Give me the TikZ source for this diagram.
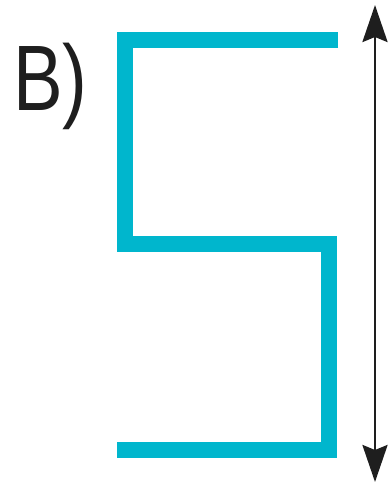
\documentclass[tikz,border=0pt]{standalone}
\usepackage{fontspec}
\setmainfont{Liberation Sans}
\usetikzlibrary{arrows.meta}
\definecolor{zcyan}{RGB}{0,182,205}
\definecolor{zdark}{RGB}{30,30,30}
\tikzset{
  zpath/.style={draw=zcyan, line width=16pt, line join=miter, line cap=butt},
  zarrow/.style={draw=zdark, line width=2.8pt, {Stealth[length=37pt,width=25pt,inset=5pt]}-{Stealth[length=37pt,width=25pt,inset=5pt]}},
  zlabel/.style={inner sep=0pt, anchor=base west, font=\fontsize{93}{93}\selectfont, text=zdark}
}
\begin{document}
\begin{tikzpicture}[x=1pt,y=-1pt]
\useasboundingbox (0,0) rectangle (389,487);
\node[zlabel] (lab) at (13,110) {\scalebox{0.8}[1]{B)}};
\draw[zpath] (338,40) -- (125,40) -- (125,244) -- (329,244) -- (329,450) -- (117,450);
\coordinate (atop) at (375,5);
\coordinate (abot) at (375,482);
\draw[zarrow] (atop) -- (abot);
\end{tikzpicture}
\end{document}
